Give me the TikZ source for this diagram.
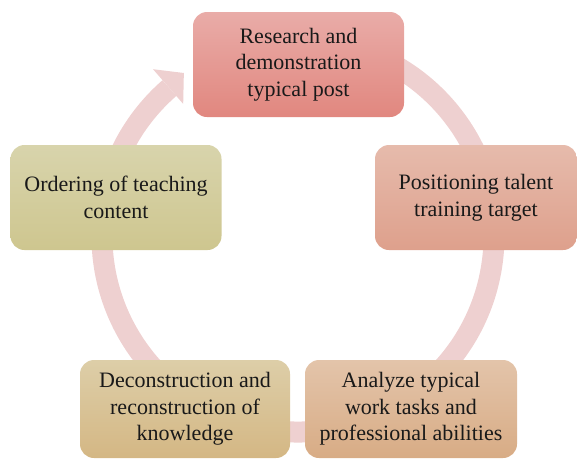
\documentclass[tikz,border=0pt]{standalone}
\usepackage{fontspec}
\setmainfont{Liberation Serif}
\definecolor{ringc}{RGB}{238,208,208}
\definecolor{aTop}{RGB}{233,172,168}\definecolor{aBot}{RGB}{225,135,127}
\definecolor{bTop}{RGB}{230,187,172}\definecolor{bBot}{RGB}{222,160,140}
\definecolor{cTop}{RGB}{216,212,172}\definecolor{cBot}{RGB}{206,198,143}
\definecolor{dTop}{RGB}{221,206,168}\definecolor{dBot}{RGB}{212,183,132}
\definecolor{eTop}{RGB}{227,196,170}\definecolor{eBot}{RGB}{216,172,133}
\begin{document}
\begin{tikzpicture}[x=1pt,y=-1pt,
  stagebox/.style={rounded corners=14pt, minimum width=211pt, minimum height=105pt,
    align=center, inner sep=0pt, text=black!90,
    font=\fontsize{22}{26.5}\selectfont},
  ring/.style={draw=ringc, line width=21pt}]
\useasboundingbox (0,0) rectangle (577,459);
% ring with arrow head
\begin{scope}[shift={(298,236)}, y=1pt]
  \coordinate (ringstart) at (80:196);
  \draw[ring] (ringstart) arc[start angle=80, end angle=-229, radius=196];
  \coordinate (hA) at (131:175);
  \coordinate (hB) at (131:221);
  \coordinate (hT) at (125:199);
  \fill[ringc] (hA) -- (hB) -- (hT) -- cycle;
\end{scope}
% boxes
\node[stagebox, top color=aTop, bottom color=aBot] (n1) at (298.5,64.5)
  {Research and\\demonstration\\typical post};
\node[stagebox, top color=bTop, bottom color=bBot, minimum width=202pt] (n2) at (476,197.5)
  {Positioning talent\\training target};
\node[stagebox, top color=cTop, bottom color=cBot] (n3) at (116,197.5)
  {Ordering of teaching\\content};
\node[stagebox, top color=dTop, bottom color=dBot, minimum width=210pt, minimum height=98pt] (n4) at (185,409)
  {Deconstruction and\\reconstruction of\\knowledge};
\node[stagebox, top color=eTop, bottom color=eBot, minimum width=212pt, minimum height=98pt] (n5) at (411,409)
  {Analyze typical\\work tasks and\\professional abilities};
\end{tikzpicture}
\end{document}
